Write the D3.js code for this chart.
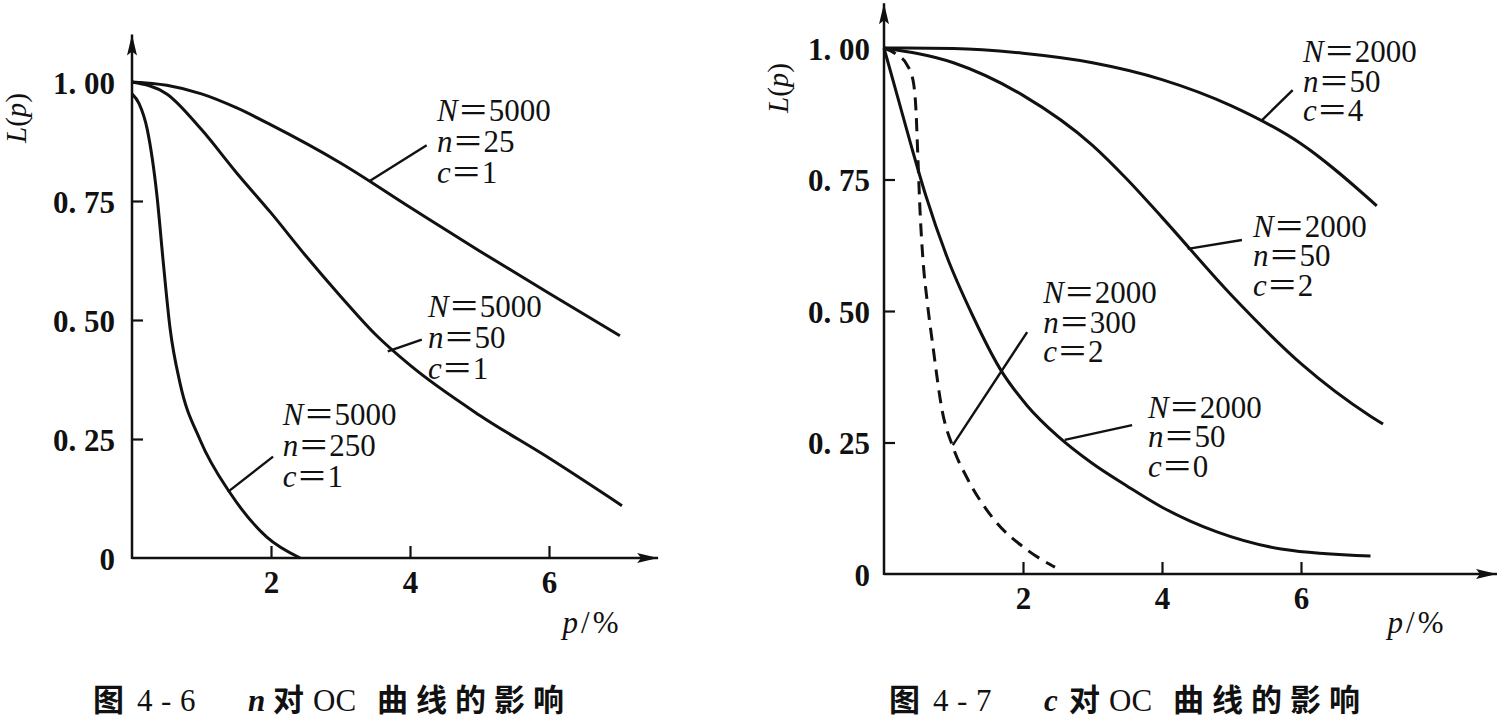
<!DOCTYPE html>
<html>
<head>
<meta charset="utf-8">
<script src="https://cdn.jsdelivr.net/npm/d3@7"></script>
<style>
  body { margin: 0; background: #fff; }
  svg { display: block; }
</style>
</head>
<body>
<script>
// OC curves, two panels: n effect (left) and c effect (right)

// ---- data (p in %, L(p)) ----
var yTicks = [0, 0.25, 0.5, 0.75, 1];
var yTickLabels = ["0", "0. 25", "0. 50", "0. 75", "1. 00"];
var xTicks = [2, 4, 6];

// left panel: N=5000, c=1
var curveN25 = [[0,1],[0.5,0.993],[1,0.975],[1.5,0.946],[2,0.91],[3,0.83],[4,0.737],[5,0.645],[6,0.556],[7.02,0.467]];
var curveN50 = [[0,1],[0.5,0.975],[1,0.9],[1.5,0.81],[2,0.725],[2.5,0.635],[3,0.55],[3.5,0.47],[4,0.405],[5,0.30],[6,0.21],[7.05,0.11]];
var curveN250 = [[0,0.975],[0.1,0.955],[0.22,0.90],[0.36,0.76],[0.45,0.621],[0.55,0.48],[0.69,0.368],[0.98,0.248],[1.41,0.137],[1.94,0.044],[2.42,0]];

// right panel: N=2000
var curveC4 = [[0,1],[1,0.999],[2,0.99],[3,0.972],[4,0.94],[5,0.89],[6,0.818],[7.09,0.70]];
var curveC2 = [[0,1],[1,0.972],[2,0.91],[3,0.815],[3.5,0.75],[4,0.678],[5,0.53],[6,0.40],[7,0.30],[7.18,0.285]];
var curveC0 = [[0,1],[0.2,0.905],[0.4,0.81],[0.6,0.72],[0.9,0.605],[1.28,0.49],[1.67,0.39],[2.06,0.32],[2.5,0.262],[3,0.21],[3.5,0.167],[4,0.127],[4.79,0.08],[5.74,0.047],[7,0.034]];
var curveN300 = [[0,1],[0.187,0.987],[0.331,0.968],[0.417,0.939],[0.46,0.882],[0.489,0.787],[0.518,0.692],[0.561,0.597],[0.619,0.521],[0.705,0.432],[0.835,0.312],[0.993,0.241],[1.194,0.183],[1.568,0.106],[2.058,0.046],[2.46,0.013]];

// annotations: leader line [from, to], text anchor, lines
var notesLeft = [
  {line: [[3.42,0.792],[4.24,0.867]], at: [4.39,0.918], text: ["N＝5000","n＝25","c＝1"]},
  {line: [[3.68,0.434],[4.17,0.459]], at: [4.26,0.507], text: ["N＝5000","n＝50","c＝1"]},
  {line: [[1.38,0.139],[2.03,0.213]], at: [2.17,0.28], text: ["N＝5000","n＝250","c＝1"]}
];
var notesRight = [
  {line: [[5.44,0.863],[5.88,0.92]], at: [6.03,0.973], text: ["N＝2000","n＝50","c＝4"]},
  {line: [[4.37,0.618],[5.15,0.635]], at: [5.31,0.641], text: ["N＝2000","n＝50","c＝2"]},
  {line: [[0.99,0.245],[2.06,0.46]], at: [2.29,0.515], text: ["N＝2000","n＝300","c＝2"]},
  {line: [[2.60,0.255],[3.57,0.283]], at: [3.80,0.297], text: ["N＝2000","n＝50","c＝0"]}
];

// captions: pieces, the symbol piece is italic
var captionLeft = ["图", "4", "-", "6", "n", "对", "OC", "曲线的影响"];
var captionRight = ["图", "4", "-", "7", "c", "对", "OC", "曲线的影响"];

var serif = "'Liberation Serif','DejaVu Serif',serif";
var cjk = "'Liberation Serif','Noto Sans CJK SC',serif";
var ink = "#111";

var svg = d3.select("body").append("svg")
            .attr("width", 1498)
            .attr("height", 718);

svg.append("rect").attr("width", 1498).attr("height", 718).attr("fill", "#fff");

// arrow heads for the axes
svg.append("defs")
   .append("marker")
   .attr("id", "arrow")
   .attr("markerUnits", "userSpaceOnUse")
   .attr("viewBox", "-22 -6 24 12")
   .attr("refX", 0).attr("refY", 0)
   .attr("markerWidth", 24).attr("markerHeight", 12)
   .attr("orient", "auto")
   .append("path")
   .attr("d", "M0,0 L-21,-5 L-17,0 L-21,5 Z")
   .attr("fill", ink);

var line = d3.line().curve(d3.curveMonotoneX);

// offsets of the caption pieces from its left edge
var capOffsets = [0, 44, 68, 87, 155, 180, 220, 284];

function drawPanel(cfg) {
  var x = d3.scaleLinear().domain([0, 7]).range([cfg.x0, cfg.x0 + 7 * cfg.unit]);
  var y = d3.scaleLinear().domain([0, 1]).range([cfg.y0, cfg.y1]);
  var g = svg.append("g");

  line.x(d => x(d[0])).y(d => y(d[1]));

  // axis lines with arrows
  g.append("line")
   .attr("x1", x(0)).attr("y1", y(0))
   .attr("x2", x(cfg.xEnd)).attr("y2", y(0))
   .attr("stroke", ink).attr("stroke-width", 2.5)
   .attr("marker-end", "url(#arrow)");
  g.append("line")
   .attr("x1", x(0)).attr("y1", y(0) + 1)
   .attr("x2", x(0)).attr("y2", y(cfg.yEnd))
   .attr("stroke", ink).attr("stroke-width", 2.5)
   .attr("marker-end", "url(#arrow)");

  var yAxis = d3.axisLeft(y)
                .tickValues(yTicks)
                .tickFormat((d, i) => yTickLabels[i])
                .tickSize(-11)
                .tickPadding(cfg.yPad);
  var ya = g.append("g")
            .attr("transform", "translate(" + x(0) + ",0)")
            .call(yAxis);
  ya.select(".domain").remove();
  ya.selectAll(".tick").filter(d => d === 0).select("line").remove();
  ya.selectAll(".tick text").attr("dy", "0.36em");

  var xAxis = d3.axisBottom(x)
                .tickValues(xTicks)
                .tickFormat(d3.format("d"))
                .tickSize(-12)
                .tickPadding(13);
  var xa = g.append("g")
            .attr("transform", "translate(0," + y(0) + ")")
            .call(xAxis);
  xa.select(".domain").remove();

  g.selectAll(".tick line").attr("stroke", ink).attr("stroke-width", 2.2);
  g.selectAll(".tick text")
   .attr("fill", ink)
   .style("font-family", serif)
   .style("font-size", "31px")
   .style("font-weight", "bold");

  // curves
  cfg.curves.forEach(c => {
    g.append("path")
     .attr("d", line(c.data))
     .attr("fill", "none")
     .attr("stroke", ink)
     .attr("stroke-width", 3)
     .attr("stroke-dasharray", c.dashed ? "13,8" : null);
  });

  // leader lines and parameter labels
  cfg.notes.forEach(n => {
    g.append("line")
     .attr("x1", x(n.line[0][0])).attr("y1", y(n.line[0][1]))
     .attr("x2", x(n.line[1][0])).attr("y2", y(n.line[1][1]))
     .attr("stroke", ink).attr("stroke-width", 2.4);
    var tx = g.append("text")
              .attr("x", x(n.at[0]))
              .attr("y", y(n.at[1]))
              .attr("fill", ink)
              .style("font-family", cjk)
              .style("font-size", "31px");
    n.text.forEach((t, i) => {
      var row = tx.append("tspan")
                  .attr("x", x(n.at[0]))
                  .attr("dy", i ? cfg.gap : 0);
      row.append("tspan").style("font-style", "italic").text(t.slice(0, 1));
      row.append("tspan").text(t.slice(1));
    });
  });

  // axis titles
  var yl = g.append("text")
            .attr("transform", "translate(" + cfg.yLabel[0] + "," + cfg.yLabel[1] + ") rotate(-90)")
            .attr("text-anchor", "middle")
            .attr("fill", ink)
            .style("font-family", serif)
            .style("font-size", "29px");
  yl.append("tspan").style("font-style", "italic").text("L");
  yl.append("tspan").text("(");
  yl.append("tspan").style("font-style", "italic").text("p");
  yl.append("tspan").text(")");

  var xl = g.append("text")
            .attr("x", cfg.xLabel[0]).attr("y", cfg.xLabel[1])
            .attr("text-anchor", "middle")
            .attr("fill", ink)
            .style("font-family", serif)
            .style("font-size", "31px")
            .style("letter-spacing", "3px");
  xl.append("tspan").style("font-style", "italic").text("p");
  xl.append("tspan").text("/%");

  // caption
  var cap = g.append("text")
             .attr("y", 711)
             .attr("fill", ink)
             .style("font-family", cjk)
             .style("font-size", "31px");
  cfg.caption.forEach((t, i) => {
    var ts = cap.append("tspan")
                .attr("x", cfg.capX + capOffsets[i])
                .text(t);
    if (i === 4) ts.style("font-style", "italic").style("font-weight", "bold");
    else if (i === 0 || i === 5 || i === 7) ts.style("font-weight", "bold");
    if (i === 7) ts.style("letter-spacing", "8px");
  });
}

drawPanel({
  x0: 132, unit: 69.5, y0: 558, y1: 82,
  xEnd: 7.57, yEnd: 1.10, yPad: 17, gap: 31,
  curves: [{data: curveN25}, {data: curveN50}, {data: curveN250}],
  notes: notesLeft,
  yLabel: [26, 118], xLabel: [592, 633],
  caption: captionLeft, capX: 93
});

drawPanel({
  x0: 884, unit: 69.5, y0: 574, y1: 48,
  xEnd: 8.82, yEnd: 1.085, yPad: 14, gap: 29.5,
  curves: [{data: curveC4}, {data: curveC2}, {data: curveC0}, {data: curveN300, dashed: true}],
  notes: notesRight,
  yLabel: [788, 88], xLabel: [1417, 633],
  caption: captionRight, capX: 889
});
</script>
</body>
</html>
